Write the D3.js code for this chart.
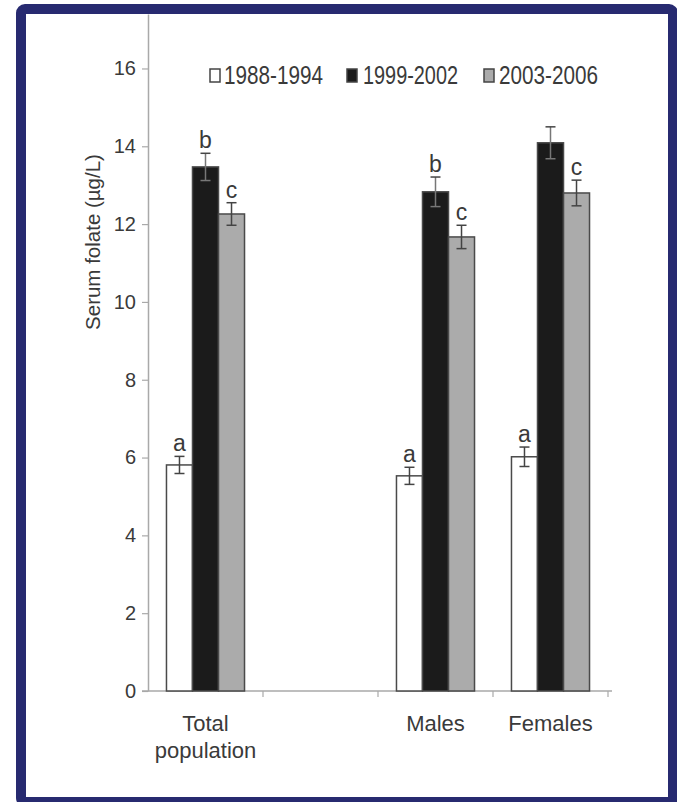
<!DOCTYPE html>
<html>
<head>
<meta charset="utf-8">
<script src="https://cdn.jsdelivr.net/npm/d3@7"></script>
<style>
  html, body { margin: 0; padding: 0; background: #ffffff; }
  svg { display: block; font-family: Arial, "Liberation Sans", sans-serif; }
</style>
</head>
<body>
<svg id="chart" width="677" height="802"></svg>
<script>
// Serum folate by survey period and population group
const groups = ["Total population", "", "Males", "Females"];   // "" keeps an empty slot on the axis
const dataGroups = ["Total population", "Males", "Females"];
const periods = ["1988-1994", "1999-2002", "2003-2006"];
const values1988 = [5.81, 5.53, 6.02];
const values1999 = [13.47, 12.83, 14.09];
const values2003 = [12.26, 11.67, 12.80];
const errors1988 = [0.22, 0.22, 0.25];
const errors1999 = [0.35, 0.38, 0.41];
const errors2003 = [0.29, 0.30, 0.33];
const letters1988 = ["a", "a", "a"];
const letters1999 = ["b", "b", ""];
const letters2003 = ["c", "c", "c"];
const yTicks = [0, 2, 4, 6, 8, 10, 12, 14, 16];

const fills = { "1988-1994": "#ffffff", "1999-2002": "#1b1b1b", "2003-2006": "#ababab" };

const seriesValues = [values1988, values1999, values2003];
const seriesErrors = [errors1988, errors1999, errors2003];
const seriesLetters = [letters1988, letters1999, letters2003];

const rows = [];
dataGroups.forEach((g, gi) => {
  periods.forEach((p, pi) => {
    rows.push({ group: g, period: p, value: seriesValues[pi][gi],
                err: seriesErrors[pi][gi], letter: seriesLetters[pi][gi] });
  });
});

const svg = d3.select("#chart");

// navy frame
svg.append("rect")
  .attr("x", 21).attr("y", 9)
  .attr("width", 652).attr("height", 793)
  .attr("rx", 4)
  .attr("fill", "#ffffff")
  .attr("stroke", "#272a70")
  .attr("stroke-width", 10);

const plotLeft = 148, plotRight = 608, plotTop = 14, plotBottom = 691;

const x = d3.scaleBand().domain(groups).range([plotLeft, plotRight]).padding(0);
const xInner = d3.scaleBand().domain(periods).range([0, x.bandwidth()])
  .paddingInner(0).paddingOuter(0.71);
const y = d3.scaleLinear().domain([0, 17.4]).range([plotBottom, plotTop]);

const axisColor = "#a9a9a9";
const textColor = "#3a3a3a";

// y axis
const yAxis = svg.append("g")
  .attr("transform", `translate(${plotLeft},0)`)
  .call(d3.axisLeft(y).tickValues(yTicks).tickSize(6).tickPadding(6).tickSizeOuter(0));
yAxis.select(".domain").attr("stroke", axisColor).attr("stroke-width", 1.5);
yAxis.selectAll(".tick line").attr("stroke", axisColor).attr("stroke-width", 1.2);
yAxis.selectAll(".tick text")
  .attr("fill", textColor)
  .style("font-size", "20px")
  .style("font-family", "Arial, 'Liberation Sans', sans-serif");

// x axis: boundaries between the category slots
const xAxisG = svg.append("g");
xAxisG.append("line")
  .attr("x1", plotLeft - 6).attr("x2", plotRight + 4)
  .attr("y1", plotBottom).attr("y2", plotBottom)
  .attr("stroke", axisColor).attr("stroke-width", 1.5);
const boundaries = groups.map(g => x(g) + x.bandwidth());
xAxisG.selectAll("line.tick")
  .data(boundaries)
  .join("line")
  .attr("class", "tick")
  .attr("x1", d => d).attr("x2", d => d)
  .attr("y1", plotBottom).attr("y2", plotBottom + 6)
  .attr("stroke", axisColor).attr("stroke-width", 1.2);

// category labels
const catLabels = xAxisG.selectAll("text.cat")
  .data(dataGroups)
  .join("text")
  .attr("class", "cat")
  .attr("x", d => x(d) + x.bandwidth() / 2)
  .attr("y", 731)
  .attr("text-anchor", "middle")
  .attr("fill", textColor)
  .style("font-size", "22px");
catLabels.each(function(d) {
  const t = d3.select(this);
  const parts = d === "Total population" ? ["Total", "population"] : [d];
  parts.forEach((p, i) => {
    t.append("tspan")
      .attr("x", x(d) + x.bandwidth() / 2)
      .attr("dy", i === 0 ? 0 : 27)
      .text(p);
  });
});

// bars
const barG = svg.append("g");
barG.selectAll("rect.bar")
  .data(rows)
  .join("rect")
  .attr("class", "bar")
  .attr("x", d => x(d.group) + xInner(d.period))
  .attr("y", d => y(d.value))
  .attr("width", xInner.bandwidth())
  .attr("height", d => y(0) - y(d.value))
  .attr("fill", d => fills[d.period])
  .attr("stroke", "#4a4a4a")
  .attr("stroke-width", 1.5);

// error bars
const errColor = "#444444";
const cap = 5;
const errG = barG.selectAll("g.err")
  .data(rows)
  .join("g")
  .attr("class", "err")
  .attr("transform", d => `translate(${x(d.group) + xInner(d.period) + xInner.bandwidth() / 2},0)`);
errG.append("line")
  .attr("x1", 0).attr("x2", 0)
  .attr("y1", d => y(d.value + d.err)).attr("y2", d => y(d.value - d.err))
  .attr("stroke", d => d.period === "1999-2002" ? "#777" : errColor)
  .attr("stroke-width", 1.5);
errG.append("line")
  .attr("x1", -cap).attr("x2", cap)
  .attr("y1", d => y(d.value + d.err)).attr("y2", d => y(d.value + d.err))
  .attr("stroke", errColor).attr("stroke-width", 1.5);
errG.append("line")
  .attr("x1", -cap).attr("x2", cap)
  .attr("y1", d => y(d.value - d.err)).attr("y2", d => y(d.value - d.err))
  .attr("stroke", d => d.period === "1999-2002" ? "#777" : errColor)
  .attr("stroke-width", 1.5);

// significance letters
errG.append("text")
  .attr("x", 0)
  .attr("y", d => y(d.value + d.err) - 5)
  .attr("text-anchor", "middle")
  .attr("fill", textColor)
  .style("font-size", "23px")
  .text(d => d.letter);

// y axis title
svg.append("text")
  .attr("transform", "translate(100,242) rotate(-90)")
  .attr("text-anchor", "middle")
  .attr("fill", textColor)
  .style("font-size", "20.5px")
  .text("Serum folate (µg/L)");

// legend
const legendPos = [
  { sq: 210, tx: 224, len: 99 },
  { sq: 347, tx: 363, len: 95 },
  { sq: 484, tx: 499, len: 99 }
];
const legend = svg.append("g");
const items = legend.selectAll("g.item")
  .data(periods)
  .join("g")
  .attr("class", "item");
items.append("rect")
  .attr("x", (d, i) => legendPos[i].sq)
  .attr("y", 69)
  .attr("width", 10).attr("height", 13)
  .attr("fill", d => fills[d])
  .attr("stroke", "#444")
  .attr("stroke-width", 1.5);
items.append("text")
  .attr("x", (d, i) => legendPos[i].tx)
  .attr("y", 84)
  .attr("textLength", (d, i) => legendPos[i].len)
  .attr("lengthAdjust", "spacingAndGlyphs")
  .attr("fill", textColor)
  .style("font-size", "25px")
  .text(d => d);
</script>
</body>
</html>
